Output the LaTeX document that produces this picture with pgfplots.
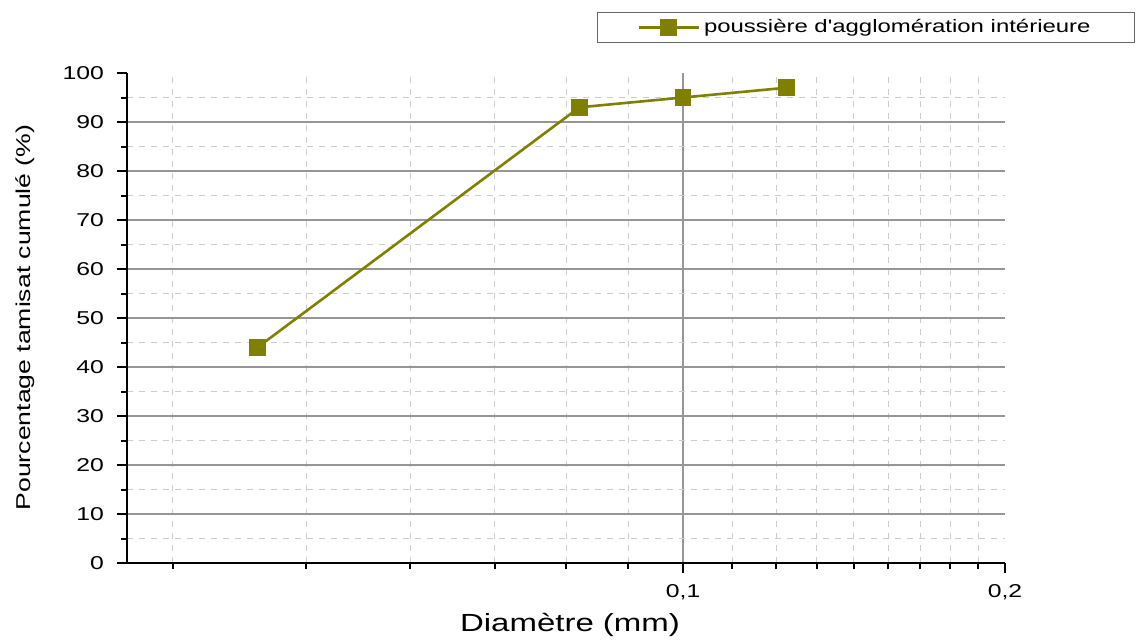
\documentclass[border=0pt]{standalone}
\usepackage{pgfplots}
\pgfplotsset{compat=1.18}
\usepackage{fontspec}
\setmainfont{Liberation Sans}[FakeStretch=1.33, Ligatures=TeXOff]
\definecolor{olivedata}{RGB}{128,128,0}
\definecolor{gridmaj}{RGB}{150,150,150}
\definecolor{gridmin}{RGB}{205,205,205}

\begin{document}
\begin{tikzpicture}
	\begin{axis}[
			at={(0,0)}, anchor=south west,
			scale only axis,
			width=439pt,
			height=245pt,
			xmode=log,
			xmin=0.0302, xmax=0.2,
			ymin=0, ymax=100,
			axis x line*=bottom,
			axis y line*=left,
			axis line style={line width=1pt, black},
			tick align=outside,
			major tick length=5pt,
			minor tick length=3pt,
			every tick/.style={black, line width=1pt},
			xtick={0.1},
			xticklabels={0{,}1},
			extra x ticks={0.2},
			extra x tick labels={0{,}2},
			extra x tick style={grid=none},
			minor xtick={0.03333,0.04444,0.05556,0.06667,0.07778,0.08889,
				0.11111,0.12222,0.13333,0.14444,0.15556,0.16667,0.17778,0.18889},
			ytick={0,10,...,90},
			extra y ticks={100},
			extra y tick style={grid=none},
			minor ytick={5,15,...,95},
			grid=both,
			major grid style={gridmaj, line width=0.6pt},
			minor grid style={gridmin, dashed, line width=0.5pt},
			/pgf/number format/assume math mode=true,
			tick label style={font=\fontsize{9.3pt}{11pt}\selectfont},
			y tick label style={xshift=-3pt},
			x tick label style={yshift=-2pt},
			xlabel={Diamètre (mm)},
			ylabel={Pourcentage tamisat cumulé (\%)},
			xlabel style={font=\fontsize{12.4pt}{14pt}\selectfont,
				at={(axis description cs:0.5046,-0.1265)}, anchor=center},
			ylabel style={font=\fontsize{10pt}{12pt}\selectfont,
				at={(axis description cs:-0.116,0.501)}, anchor=center},
			legend style={
				at={(axis description cs:0.5353,1.1245)}, anchor=north west,
				draw=gray!80!black, line width=0.5pt,
				inner xsep=20pt, inner ysep=1.5pt,
				font=\fontsize{9pt}{11pt}\selectfont,
			},
			legend image code/.code={
				\draw[mark repeat=2, mark phase=2, #1]
					plot coordinates {(0pt,0pt) (15pt,0pt) (30pt,0pt)};
			},
		]

		\addplot [olivedata, line width=1.3pt,
			mark=square*, mark size=3.5pt,
			mark options={solid, fill=olivedata}]
		table {
		d	pass
		0.040	44
		0.080	93
		0.100	95
		0.125	97
		};
		\addlegendentry{poussière d'agglomération intérieure}

	\end{axis}
	\pgfresetboundingbox
	\path (-63.5pt,-38pt) rectangle (510pt,281.5pt);
\end{tikzpicture}
\end{document}
